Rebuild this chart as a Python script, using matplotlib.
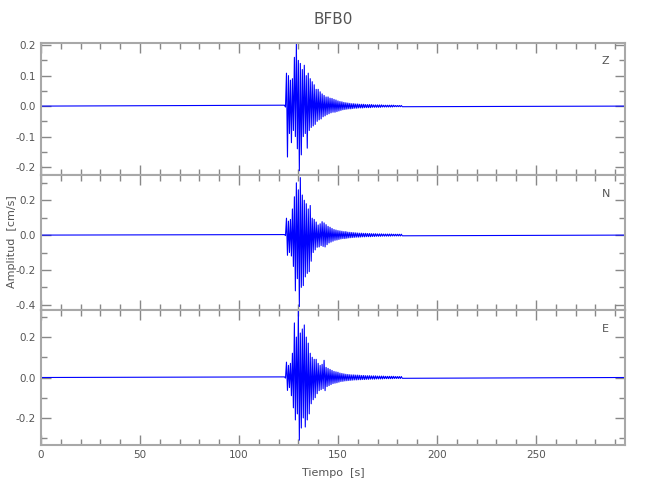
import numpy as np
import matplotlib
matplotlib.use("Agg")
import matplotlib.pyplot as plt
from matplotlib.ticker import MultipleLocator

station = "BFB0"
components = ["Z", "N", "E"]

# peak amplitudes [cm/s], every 0.5 s from t0
t0 = 123.0
dt = 0.5
t_record = [0.0, 295.0]

amp_z = [0.003, -0.003, 0.108, -0.167, 0.10, -0.09, 0.085, -0.12, 0.09, -0.08,
         0.16, -0.10, 0.205, -0.14, 0.15, -0.212, 0.14, -0.16, 0.12, -0.10,
         0.134, -0.09, 0.10, -0.138, 0.108, -0.08, 0.09, -0.07, 0.08, -0.065,
         0.07, -0.06, 0.055, -0.05, 0.055, -0.045, 0.047, -0.042, 0.04, -0.035,
         0.035, -0.032, 0.03, -0.028, 0.03, -0.025, 0.026, -0.022, 0.025, -0.02,
         0.022, -0.02, 0.02, -0.018, 0.017, -0.016, 0.015, -0.014, 0.014, -0.012,
         0.012, -0.011, 0.011, -0.01, 0.01, -0.009, 0.009, -0.009, 0.008, -0.008,
         0.008, -0.007, 0.007, -0.007, 0.007, -0.006, 0.006, -0.006, 0.006, -0.006,
         0.006, -0.005, 0.005, -0.005, 0.005, -0.005, 0.005, -0.005, 0.005, -0.004,
         0.004, -0.004, 0.004, -0.004, 0.004, -0.004, 0.004, -0.004, 0.004, -0.003,
         0.003, -0.003, 0.003, -0.003, 0.003, -0.003, 0.003, -0.003, 0.003, -0.003,
         0.003, -0.002, 0.002, -0.002, 0.002, -0.002, 0.002, -0.002, 0.002, -0.002]

amp_n = [0.003, -0.003, 0.097, -0.116, 0.08, -0.10, 0.09, -0.12, 0.15, -0.18,
         0.22, -0.32, 0.30, -0.25, 0.26, -0.41, 0.33, -0.30, 0.23, -0.29,
         0.20, -0.24, 0.18, -0.22, 0.15, -0.21, 0.17, -0.15, 0.097, -0.10,
         0.09, -0.085, 0.075, -0.07, 0.058, -0.068, 0.065, -0.06, 0.077, -0.065,
         0.07, -0.068, 0.06, -0.055, 0.05, -0.045, 0.045, -0.04, 0.038, -0.035,
         0.032, -0.03, 0.029, -0.028, 0.026, -0.025, 0.024, -0.022, 0.022, -0.02,
         0.02, -0.02, 0.02, -0.018, 0.017, -0.016, 0.016, -0.015, 0.015, -0.014,
         0.014, -0.013, 0.013, -0.012, 0.012, -0.012, 0.011, -0.011, 0.011, -0.01,
         0.01, -0.01, 0.01, -0.009, 0.009, -0.009, 0.009, -0.009, 0.008, -0.008,
         0.008, -0.008, 0.008, -0.007, 0.007, -0.007, 0.007, -0.007, 0.007, -0.006,
         0.006, -0.006, 0.006, -0.006, 0.006, -0.006, 0.006, -0.006, 0.006, -0.005,
         0.005, -0.005, 0.005, -0.005, 0.005, -0.005, 0.005, -0.005, 0.005, -0.004]

amp_e = [0.003, -0.003, 0.076, -0.064, 0.06, -0.05, 0.07, -0.09, 0.12, -0.15,
         0.27, -0.21, 0.20, -0.18, 0.33, -0.31, 0.22, -0.25, 0.24, -0.20,
         0.26, -0.245, 0.20, -0.21, 0.17, -0.18, 0.12, -0.13, 0.10, -0.11,
         0.09, -0.10, 0.09, -0.08, 0.07, -0.065, 0.06, -0.06, 0.065, -0.055,
         0.085, -0.065, 0.05, -0.045, 0.045, -0.04, 0.04, -0.035, 0.035, -0.03,
         0.03, -0.028, 0.028, -0.026, 0.026, -0.023, 0.022, -0.02, 0.02, -0.019,
         0.018, -0.017, 0.016, -0.016, 0.015, -0.015, 0.014, -0.014, 0.013, -0.013,
         0.013, -0.012, 0.012, -0.012, 0.012, -0.011, 0.011, -0.011, 0.01, -0.01,
         0.01, -0.01, 0.009, -0.009, 0.009, -0.009, 0.009, -0.008, 0.008, -0.008,
         0.008, -0.008, 0.008, -0.007, 0.007, -0.007, 0.007, -0.007, 0.007, -0.007,
         0.007, -0.006, 0.006, -0.006, 0.006, -0.006, 0.006, -0.006, 0.006, -0.006,
         0.006, -0.005, 0.005, -0.005, 0.005, -0.005, 0.005, -0.005, 0.005, -0.004]

traces = [amp_z, amp_n, amp_e]
ylims = [(-0.226, 0.207), (-0.43, 0.345), (-0.334, 0.334)]
ymajor = [0.1, 0.2, 0.2]
yminor = [0.05, 0.1, 0.1]

gray = "#a8a8a8"
txt = "#555555"
plt.rcParams["font.family"] = "DejaVu Sans"

fig = plt.figure(figsize=(6.5, 5), dpi=100)
left, width = 41 / 650, 584 / 650
edges = [43, 175, 310, 445]

for i, (comp, amp) in enumerate(zip(components, traces)):
    top, bot = edges[i], edges[i + 1]
    ax = fig.add_axes([left, 1 - bot / 500, width, (bot - top) / 500])
    amp = np.asarray(amp)
    t = t0 + dt * np.arange(len(amp))
    tt = np.concatenate([[t_record[0]], t, [t_record[1]]])
    yy = np.concatenate([[0.0], amp, [0.0]])
    ax.plot(tt, yy, color="#0000ff", lw=0.8)
    ax.set_xlim(t_record)
    ax.set_ylim(ylims[i])
    ax.xaxis.set_major_locator(MultipleLocator(50))
    ax.xaxis.set_minor_locator(MultipleLocator(10))
    ax.yaxis.set_major_locator(MultipleLocator(ymajor[i]))
    ax.yaxis.set_minor_locator(MultipleLocator(yminor[i]))
    ax.yaxis.set_major_formatter(plt.FuncFormatter(lambda v, p: f"{v:.1f}"))
    ax.tick_params(which="both", direction="in", top=True, right=True,
                   color="#888888", labelcolor=txt, labelsize=7.5, width=1.0)
    ax.tick_params(which="major", length=7)
    ax.tick_params(which="minor", length=4)
    for s in ax.spines.values():
        s.set_color(gray)
        s.set_linewidth(1.5)
    if i < 2:
        ax.tick_params(labelbottom=False)
    else:
        ax.set_xlabel("Tiempo  [s]", color=txt, fontsize=8, labelpad=6)
    if i == 0:
        ax.set_title(station, color=txt, fontsize=11, pad=14)
    ax.text(0.967, 0.86, comp, transform=ax.transAxes, ha="center", va="center",
            color=txt, fontsize=8)

fig.text(12 / 650, 1 - 242 / 500, "Amplitud  [cm/s]", rotation=90,
         ha="center", va="center", color=txt, fontsize=8)

fig.savefig("out.png", dpi=100)
